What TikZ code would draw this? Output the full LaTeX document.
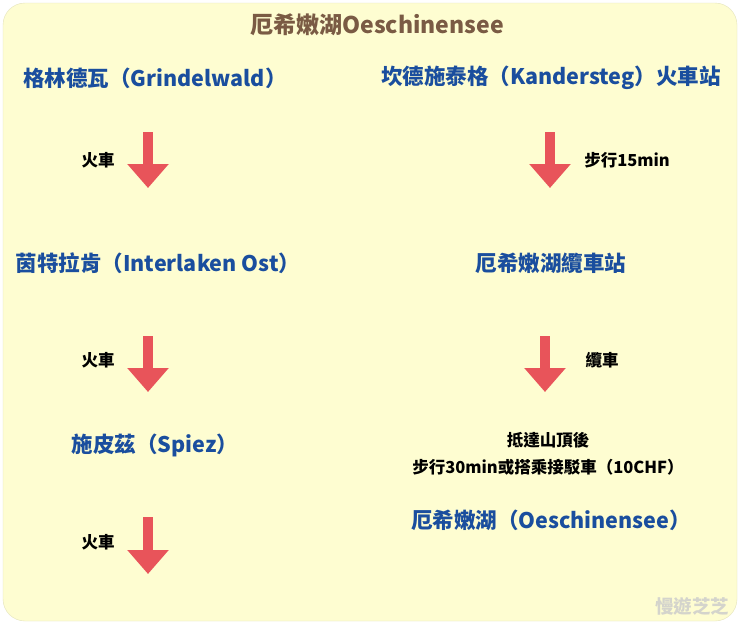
\documentclass[tikz,border=0pt]{standalone}
\usepackage{fontspec}
\setmainfont{Noto Sans CJK TC}
\usetikzlibrary{arrows.meta}
\definecolor{bgyellow}{HTML}{FEFDD1}
\definecolor{titlebrown}{HTML}{7A5B44}
\definecolor{placeblue}{HTML}{1A4E9E}
\definecolor{arrowred}{HTML}{E8545A}
\definecolor{markgray}{HTML}{D4D4CC}
\tikzset{
  place/.style={font=\fontsize{21.5}{25}\selectfont\bfseries, text=placeblue},
  how/.style={font=\fontsize{16.5}{19}\selectfont\bfseries, text=black},
  bigarrow/.style={arrowred, line width=10pt, -{Triangle[width=40pt,length=24pt]}},
}
\begin{document}
\begin{tikzpicture}[x=1pt, y=-1pt]
    \useasboundingbox (0,0) rectangle (740,625);
    \fill[white] (0,0) rectangle (740,625);
    \filldraw[fill=bgyellow, draw=bgyellow!90!black, line width=0.4pt, rounded corners=22pt] (3,3) rectangle (737,621);
    % title
    \node[font=\fontsize{23}{27}\selectfont\bfseries, text=titlebrown] (title) at (377,25) {厄希嫩湖Oeschinensee};
    % left column
    \node[place] (grindelwald) at (155,78) {格林德瓦（Grindelwald）};
    \node[place] (interlaken) at (158,263) {茵特拉肯（Interlaken Ost）};
    \node[place] (spiez) at (155,445) {施皮茲（Spiez）};
    \coordinate (l1top) at (148,132);
    \coordinate (l1tip) at (148,188);
    \coordinate (l2top) at (148,336);
    \coordinate (l2tip) at (148,392);
    \coordinate (l3top) at (148,517);
    \coordinate (l3tip) at (148,574);
    \draw[bigarrow] (l1top) -- (l1tip);
    \draw[bigarrow] (l2top) -- (l2tip);
    \draw[bigarrow] (l3top) -- (l3tip);
    \node[how] (train1) at (98,160) {火車};
    \node[how] (train2) at (98,360) {火車};
    \node[how] (train3) at (98,542) {火車};
    % right column
    \node[place] (kandersteg) at (551,78) {坎德施泰格（Kandersteg）火車站};
    \node[place] (cablecar) at (551,263) {厄希嫩湖纜車站};
    \node[how, align=center, font=\fontsize{16.5}{27}\selectfont\bfseries] (summit) at (548,454) {抵達山頂後\\步行30min或搭乘接駁車（10CHF）};
    \node[place] (lake) at (551,520) {厄希嫩湖（Oeschinensee）};
    \coordinate (r1top) at (550,132);
    \coordinate (r1tip) at (550,188);
    \coordinate (r2top) at (545,336);
    \coordinate (r2tip) at (545,392);
    \draw[bigarrow] (r1top) -- (r1tip);
    \draw[bigarrow] (r2top) -- (r2tip);
    \node[how] (walk) at (627,160) {步行15min};
    \node[how] (gondola) at (602,360) {纜車};
    % watermark
    \node[font=\fontsize{18.5}{22}\selectfont\bfseries, text=markgray] (mark) at (692,606) {慢遊芝芝};
\end{tikzpicture}
\end{document}
